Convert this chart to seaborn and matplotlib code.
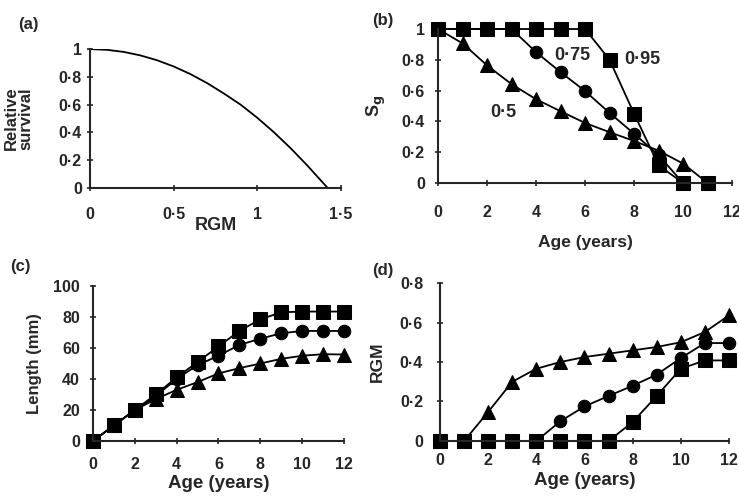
import numpy as np
import pandas as pd
import seaborn as sns
import matplotlib.pyplot as plt
from matplotlib.ticker import FuncFormatter

# panel (a): survival as a function of RGM
rgm_a = [0, 0.1, 0.2, 0.3, 0.4, 0.5, 0.6, 0.7, 0.8, 0.9, 1.0, 1.1, 1.2, 1.3, 1.42]
surv_a = [1.0, 0.995, 0.98, 0.955, 0.92, 0.875, 0.82, 0.755, 0.68, 0.60, 0.505, 0.40, 0.285, 0.16, 0.0]

ages = list(range(0, 13))
ages_b = list(range(0, 12))

# panel (b): Sg by age for the three levels
sg_050 = [1.0, 0.907, 0.764, 0.642, 0.544, 0.466, 0.39, 0.33, 0.273, 0.21, 0.126, 0.0]
sg_075 = [1.0, 1.0, 1.0, 1.0, 0.85, 0.72, 0.597, 0.455, 0.32, 0.18, 0.0, 0.0]
sg_095 = [1.0, 1.0, 1.0, 1.0, 1.0, 1.0, 1.0, 0.80, 0.45, 0.115, 0.0, 0.0]
labels_b = ['0·5', '0·75', '0·95']

# panel (c): length (mm)
len_tri = [0, 10, 20, 27, 33, 38, 43.6, 47, 50, 53, 55, 56, 55.8]
len_cir = [0, 10, 20, 29, 40, 49, 55, 62, 66, 69.5, 71, 71, 71]
len_sq = [0, 10, 20, 30, 41, 51, 61, 71, 78.5, 83, 83.5, 83.5, 83.5]

# panel (d): RGM by age
rgm_tri = [0, 0, 0.147, 0.30, 0.366, 0.40, 0.425, 0.442, 0.459, 0.476, 0.50, 0.552, 0.636]
rgm_cir = [0, 0, 0, 0, 0, 0.10, 0.175, 0.228, 0.28, 0.336, 0.42, 0.496, 0.496]
rgm_sq = [0, 0, 0, 0, 0, 0, 0, 0, 0.096, 0.228, 0.366, 0.408, 0.408]

sns.set_style('ticks')
plt.rcParams['font.family'] = ['Liberation Sans', 'DejaVu Sans']
plt.rcParams['font.weight'] = 'bold'
plt.rcParams['axes.labelweight'] = 'bold'
plt.rcParams['mathtext.default'] = 'bf'

fig = plt.figure(figsize=(7.39, 4.96), dpi=100)
ax_a = fig.add_axes([0.1218, 0.621, 0.3397, 0.280])
ax_b = fig.add_axes([0.5927, 0.631, 0.398, 0.3105])
ax_c = fig.add_axes([0.1258, 0.1109, 0.3397, 0.3125])
ax_d = fig.add_axes([0.5954, 0.1109, 0.391, 0.3185])

dot_fmt = FuncFormatter(lambda v, p: ('%g' % round(v, 3)).replace('.', '·'))
mk = dict(color='black', linewidth=1.3, markeredgecolor='black', clip_on=False)
msize = {'^': 10, 'o': 9, 's': 10}


def style_axis(ax, xpad, ypad):
	sns.despine(ax=ax)
	for sp in ax.spines.values():
		sp.set_linewidth(1.5)
	ax.tick_params(direction='inout', length=4, width=1.2, labelsize=11.5)
	ax.tick_params(axis='x', pad=xpad)
	ax.tick_params(axis='y', pad=ypad)
	ax.xaxis.set_major_formatter(dot_fmt)
	ax.yaxis.set_major_formatter(dot_fmt)


# (a)
sns.lineplot(x=rgm_a, y=surv_a, ax=ax_a, color='black', linewidth=1.3)
ax_a.set_xlim(0, 1.5)
ax_a.set_ylim(0, 1)
ax_a.set_xticks([0, 0.5, 1, 1.5])
ax_a.set_yticks([0, 0.2, 0.4, 0.6, 0.8, 1])
ax_a.set_xlabel('RGM', fontsize=13)
ax_a.set_ylabel('Relative\nsurvival', fontsize=12, linespacing=0.9)
ax_a.xaxis.set_label_coords(0.5, -0.209)
ax_a.yaxis.set_label_coords(-0.227, 0.5)
style_axis(ax_a, 11.5, 3.8)

# (b)
for vals, m in [(sg_050, '^'), (sg_075, 'o'), (sg_095, 's')]:
	sns.lineplot(x=ages_b, y=vals, ax=ax_b, marker=m, markersize=msize[m], **mk)
ax_b.set_xlim(0, 12)
ax_b.set_ylim(0, 1)
ax_b.set_xticks(range(0, 13, 2))
ax_b.set_yticks([0, 0.2, 0.4, 0.6, 0.8, 1])
ax_b.set_xlabel('Age (years)', fontsize=12.5)
ax_b.set_ylabel('S$_\\mathbf{g}$', fontsize=13)
ax_b.xaxis.set_label_coords(0.5, -0.338)
ax_b.yaxis.set_label_coords(-0.17, 0.5)
for lab, (tx, ty) in zip(labels_b, [(2.65, 0.455), (5.47, 0.83), (8.33, 0.80)]):
	ax_b.text(tx, ty, lab, fontsize=13, fontweight='bold', ha='center', va='center')
style_axis(ax_b, 13.5, 7.4)

# (c)
for vals, m in [(len_tri, '^'), (len_cir, 'o'), (len_sq, 's')]:
	sns.lineplot(x=ages, y=vals, ax=ax_c, marker=m, markersize=msize[m], **mk)
ax_c.set_xlim(0, 12)
ax_c.set_ylim(0, 100)
ax_c.set_xticks(range(0, 13, 2))
ax_c.set_yticks(range(0, 101, 20))
ax_c.set_xlabel('Age (years)', fontsize=13.5)
ax_c.set_ylabel('Length (mm)', fontsize=12)
ax_c.xaxis.set_label_coords(0.5, -0.219)
ax_c.yaxis.set_label_coords(-0.203, 0.5)
style_axis(ax_c, 9.5, 7.4)

# (d)
for vals, m in [(rgm_tri, '^'), (rgm_cir, 'o'), (rgm_sq, 's')]:
	sns.lineplot(x=ages, y=vals, ax=ax_d, marker=m, markersize=msize[m], **mk)
ax_d.set_xlim(0, 12)
ax_d.set_ylim(0, 0.8)
ax_d.set_xticks(range(0, 13, 2))
ax_d.set_yticks([0, 0.2, 0.4, 0.6, 0.8])
ax_d.set_xlabel('Age (years)', fontsize=13.5)
ax_d.set_ylabel('RGM', fontsize=12.5)
ax_d.xaxis.set_label_coords(0.5, -0.196)
ax_d.yaxis.set_label_coords(-0.19, 0.5)
style_axis(ax_d, 6.6, 10.2)

# panel letters
for lab, (px, py) in zip(['(a)', '(b)', '(c)', '(d)'],
						 [(28, 25), (383, 20), (20, 267), (383, 270)]):
	fig.text(px / 739, 1 - py / 496, lab, fontsize=12, fontweight='bold', ha='center', va='center')

fig.savefig('out.png', dpi=100)
